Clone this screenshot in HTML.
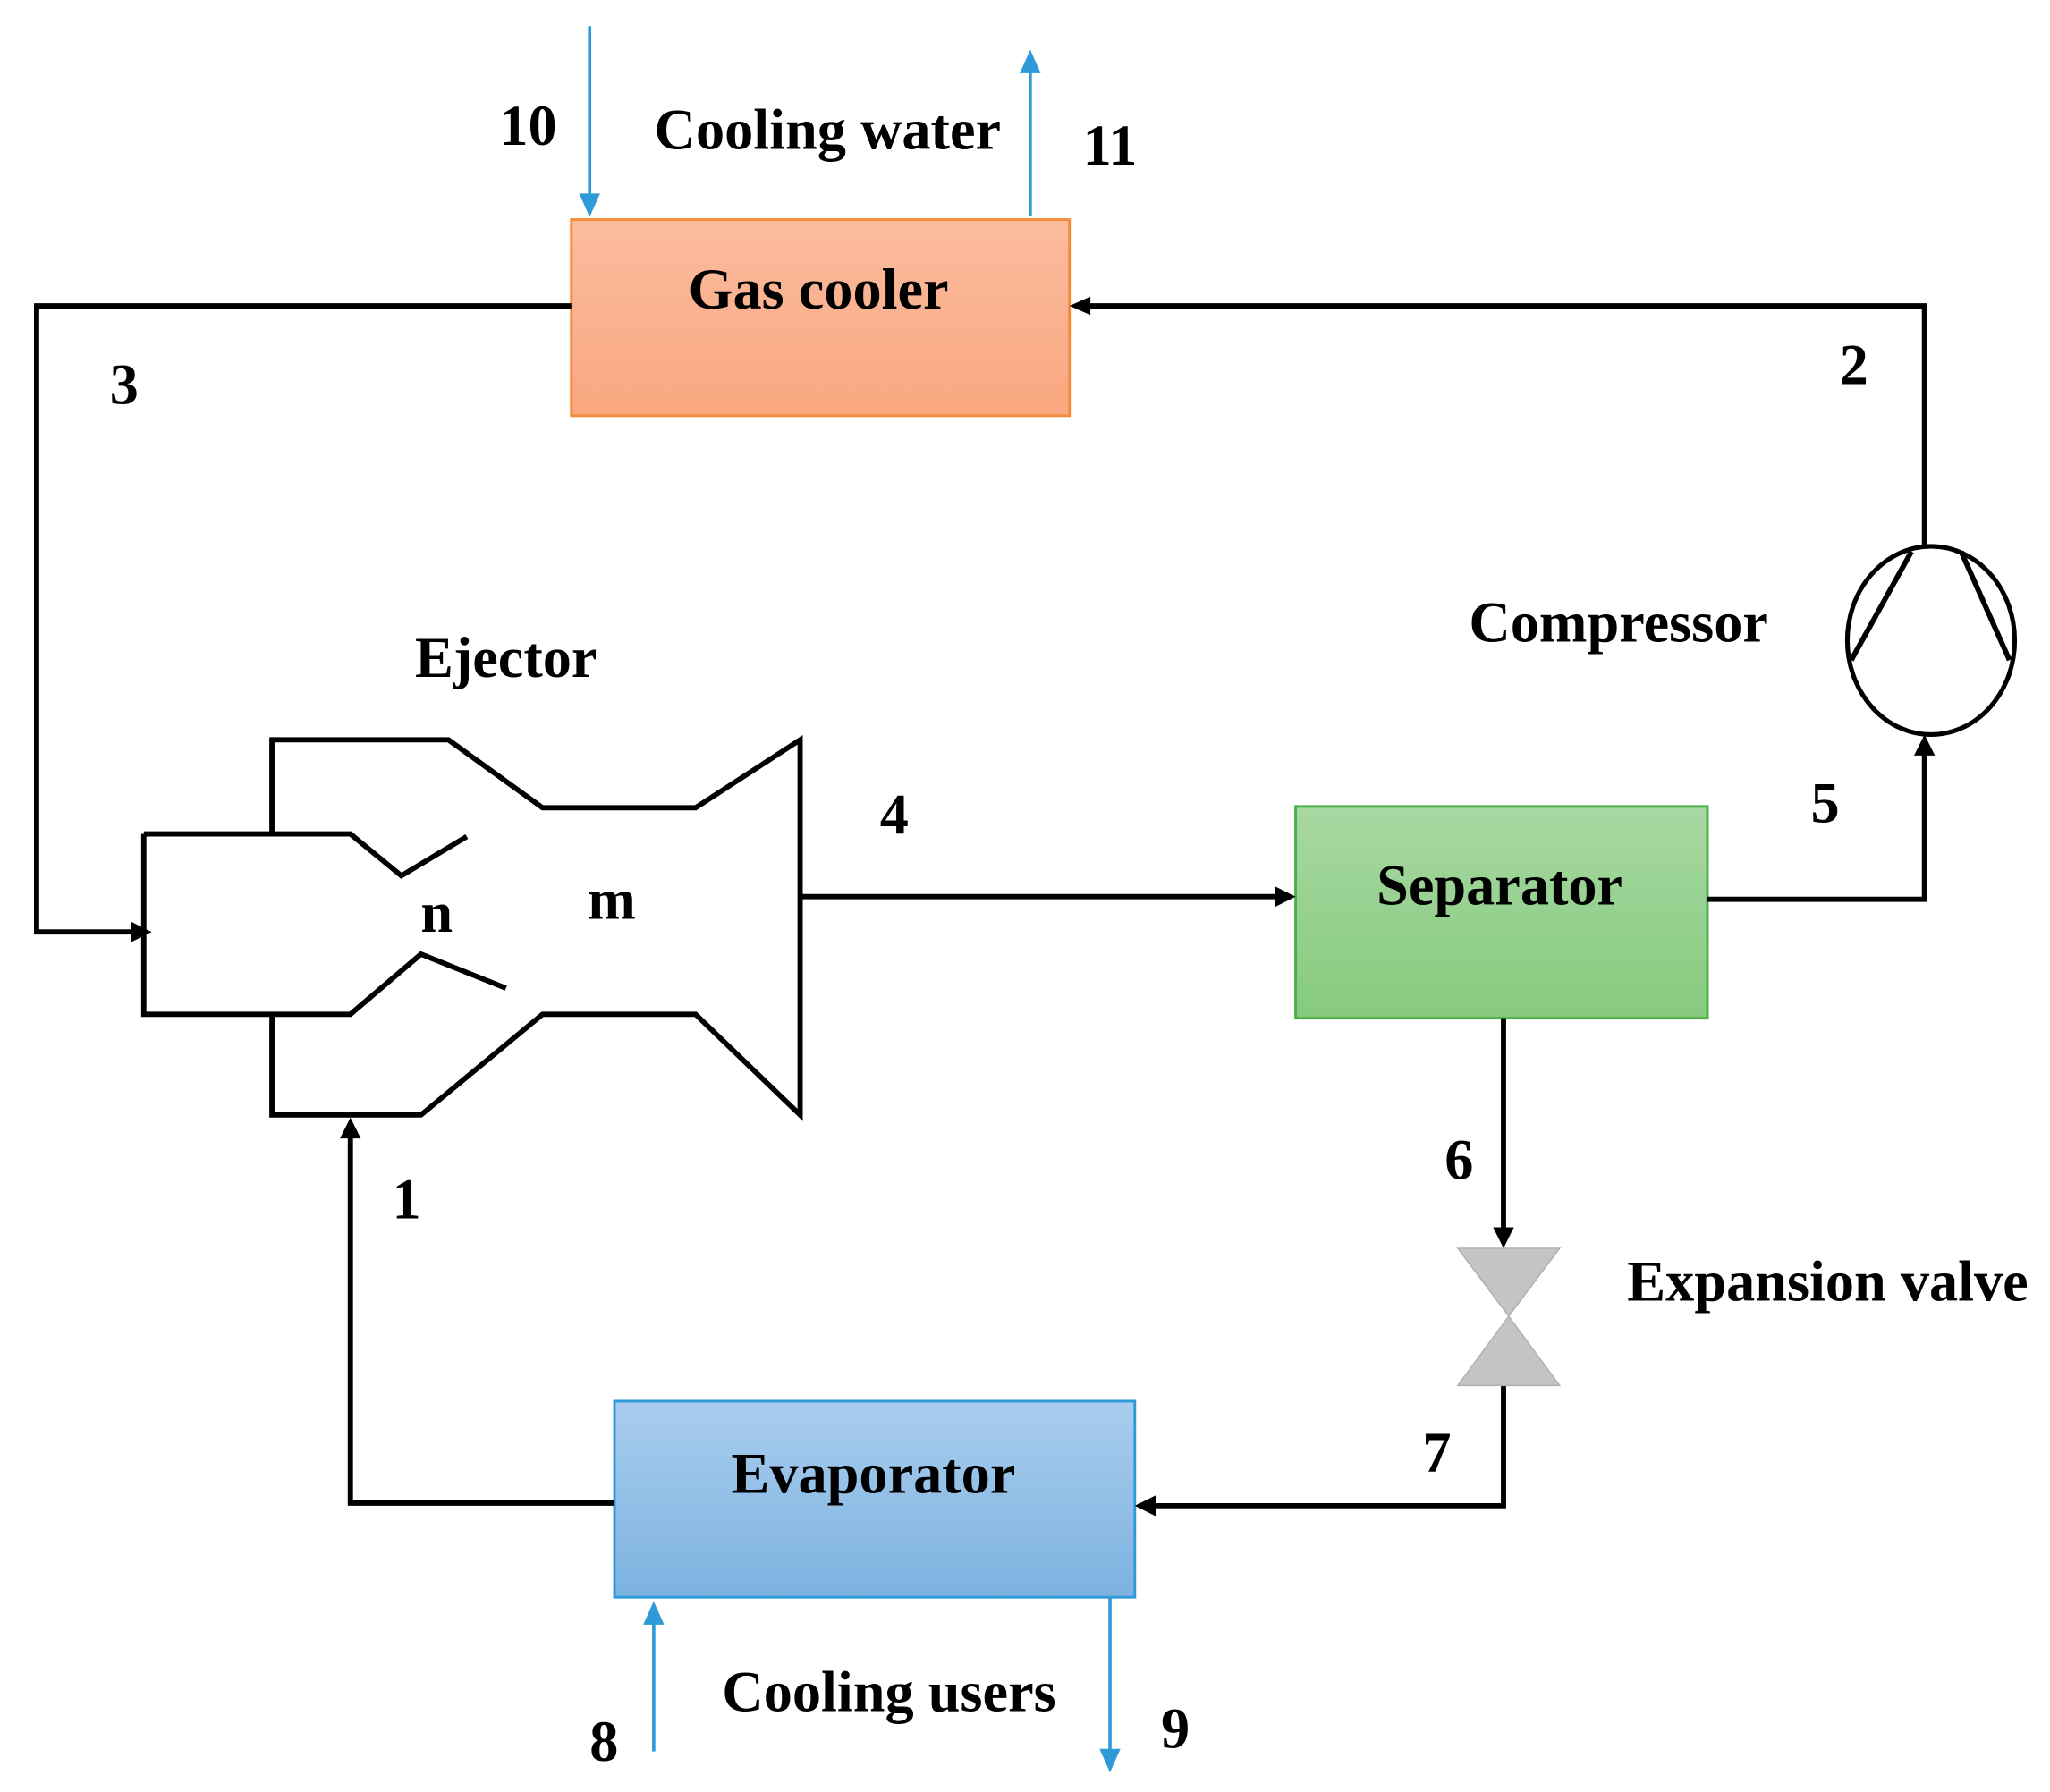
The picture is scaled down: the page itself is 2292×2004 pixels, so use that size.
<!DOCTYPE html>
<html><head><meta charset="utf-8"><style>html,body{margin:0;padding:0;background:#fff}svg{display:block}</style></head>
<body>
<svg width="2292" height="2004" viewBox="0 0 1568 1371" preserveAspectRatio="none" xmlns="http://www.w3.org/2000/svg">
<defs>
<linearGradient id="go" x1="0" y1="0" x2="0" y2="1"><stop offset="0" stop-color="#fbbc9e"/><stop offset="1" stop-color="#f9a77f"/></linearGradient>
<linearGradient id="gg" x1="0" y1="0" x2="0" y2="1"><stop offset="0" stop-color="#a8d8a2"/><stop offset="1" stop-color="#86ca7e"/></linearGradient>
<linearGradient id="gb" x1="0" y1="0" x2="0" y2="1"><stop offset="0" stop-color="#a9cdee"/><stop offset="1" stop-color="#7db2e0"/></linearGradient>
</defs>
<g font-family="Liberation Serif, serif" font-weight="bold" fill="#000" text-anchor="middle">
<rect x="437" y="168" width="381" height="150" fill="url(#go)" stroke="#f58a3a" stroke-width="2"/>
<rect x="991" y="617" width="315" height="162" fill="url(#gg)" stroke="#4cb04a" stroke-width="2"/>
<rect x="470" y="1072" width="398" height="150" fill="url(#gb)" stroke="#2e9ad8" stroke-width="2"/>
<g stroke="#000" stroke-width="4" fill="none" stroke-linejoin="miter">
<polyline points="437,234 28,234 28,713 104,713"/>
<polyline points="830,234 1472,234 1472,418"/>
<polyline points="1306,688 1472,688 1472,575"/>
<line x1="612" y1="686" x2="978" y2="686"/>
<line x1="1150" y1="779" x2="1150" y2="942"/>
<polyline points="1150,1060 1150,1152 880,1152"/>
<polyline points="470,1150 268,1150 268,868"/>
<polyline points="208,638 208,566 343,566 415,618 532,618 612,566 612,853 532,776 415,776 322,853 208,853 208,776"/>
<polyline points="110,638 110,776 268,776 322,730 387,756"/>
<polyline points="110,638 268,638 307,670 357,640"/>
<polyline points="1462,422 1416,505"/>
<polyline points="1500,422 1537,505"/>
<ellipse cx="1477" cy="490" rx="64" ry="72" stroke-width="3.5"/>
</g>
<g fill="#000">
<polygon points="818,234 834,227 834,241"/>
<polygon points="116,713 100,705 100,721"/>
<polygon points="1472,562 1464,578 1480,578"/>
<polygon points="991,686 975,678 975,694"/>
<polygon points="1150,955 1142,939 1158,939"/>
<polygon points="868,1152 884,1144 884,1160"/>
<polygon points="268,855 260,871 276,871"/>
</g>
<g fill="#c4c4c4" stroke="#b0b0b0" stroke-width="1">
<polygon points="1115,955 1193,955 1154,1007"/>
<polygon points="1115,1060 1193,1060 1154,1007"/>
</g>
<g stroke="#2e9ad8" stroke-width="2.5" fill="none">
<line x1="451" y1="20" x2="451" y2="152"/>
<line x1="788" y1="165" x2="788" y2="52"/>
<line x1="500" y1="1340" x2="500" y2="1238"/>
<line x1="849" y1="1222" x2="849" y2="1342"/>
</g>
<g fill="#2e9ad8">
<polygon points="451,166 443,148 459,148"/>
<polygon points="788,38 780,56 796,56"/>
<polygon points="500,1225 492,1243 508,1243"/>
<polygon points="849,1356 841,1338 857,1338"/>
</g>
<g font-size="44">
<text x="626" y="236">Gas cooler</text>
<text x="1147" y="692">Separator</text>
<text x="668" y="1142">Evaporator</text>
<text x="633" y="114">Cooling water</text>
<text x="387" y="518">Ejector</text>
<text x="1238" y="491">Compressor</text>
<text x="1398" y="995">Expansion valve</text>
<text x="680" y="1309">Cooling users</text>
<text x="404" y="111">10</text>
<text x="849" y="126">11</text>
<text x="95" y="309">3</text>
<text x="1418" y="294">2</text>
<text x="684" y="638">4</text>
<text x="1396" y="629">5</text>
<text x="334" y="713">n</text>
<text x="468" y="703">m</text>
<text x="1116" y="902">6</text>
<text x="311" y="932">1</text>
<text x="1099" y="1126">7</text>
<text x="462" y="1347">8</text>
<text x="899" y="1337">9</text>
</g>
</g>
</svg>
</body></html>
